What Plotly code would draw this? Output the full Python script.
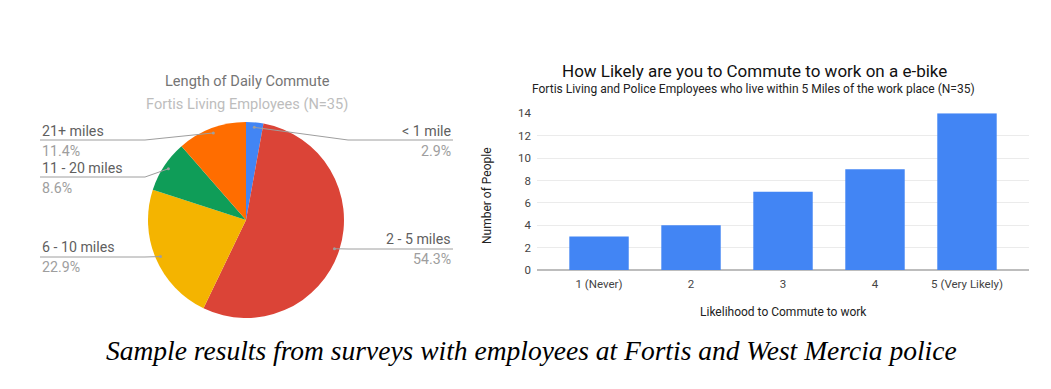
import math
import plotly.graph_objects as go

# ---- data ----
pie_labels = ["< 1 mile", "2 - 5 miles", "6 - 10 miles", "11 - 20 miles", "21+ miles"]
pie_values = [1, 19, 8, 3, 4]
pie_colors = ["#4285F4", "#DB4437", "#F4B400", "#0F9D58", "#FF6D00"]

bar_categories = ["1 (Never)", "2", "3", "4", "5 (Very Likely)"]
bar_values = [3, 4, 7, 9, 14]
y_ticks = [0, 2, 4, 6, 8, 10, 12, 14]

W, H = 1051, 389
OFF = 8  # page body margin
def px(x):
    return (x - OFF) / W
def py(y):
    return 1 - (y - OFF) / H

FONT = "Roboto, Arial, sans-serif"

fig = go.Figure()

cx, cy, R = 246, 220, 98
fig.add_trace(go.Pie(
    labels=pie_labels, values=pie_values, sort=False, direction="clockwise",
    rotation=0, marker=dict(colors=pie_colors, line=dict(width=0)),
    textinfo="none", hoverinfo="label+percent", showlegend=False,
    domain=dict(x=[px(cx - R), px(cx + R)], y=[py(cy + R), py(cy - R)]),
))

fig.add_trace(go.Bar(
    x=list(range(len(bar_categories))), y=bar_values, marker_color="#4285F4",
    marker_line_width=0, showlegend=False, xaxis="x", yaxis="y",
))

fig.update_layout(
    width=W, height=H, margin=dict(l=0, r=0, t=0, b=0, pad=0, autoexpand=False),
    paper_bgcolor="white", plot_bgcolor="white",
    bargap=0.354, showlegend=False,
    font=dict(family=FONT),
    xaxis=dict(domain=[px(537.3), px(1029)], range=[-0.671, 4.674], automargin=False,
               tickvals=list(range(len(bar_categories))), ticktext=bar_categories,
               showgrid=False, zeroline=False, showline=False,
               ticks="outside", ticklen=3, tickcolor="rgba(0,0,0,0)",
               tickfont=dict(size=11.5, color="#444444")),
    yaxis=dict(domain=[py(270.1), py(113.3)], range=[0, 14], tickvals=y_ticks, automargin=False,
               showgrid=True, gridcolor="#EBEBEB", zeroline=True, zerolinecolor="#BDBDBD",
               zerolinewidth=1.5, ticks="outside", ticklen=3, tickcolor="rgba(0,0,0,0)",
               tickfont=dict(size=11.5, color="#444444")),
)

annotations = []
shapes = []

def centered(x, y, text, size, color, family=FONT, **kw):
    d = dict(x=px(x), y=py(y), xref="paper", yref="paper", text=text, showarrow=False,
             xanchor="center", yanchor="middle", font=dict(size=size, color=color, family=family))
    d.update(kw)
    return d

# pie titles
annotations.append(centered(247, 81, "Length of Daily Commute", 14.6, "#757575"))
annotations.append(centered(247, 104, "Fortis Living Employees (N=35)", 14.6, "#BDBDBD"))

# pie labels with leader lines
total = sum(pie_values)
label_side = ["right", "right", "left", "left", "left"]
label_text_y = [131, 239, 247, 168, 131]
label_line_y = [140, 249, 257, 177, 140]
label_pct_y = [151, 259, 267, 188, 151]
cum = 0
for i, (lab, v) in enumerate(zip(pie_labels, pie_values)):
    mid = (cum + v / 2) / total * 2 * math.pi
    cum += v
    r = 93
    dx_ = cx + r * math.sin(mid)
    dy_ = cy - r * math.cos(mid)
    pct = f"{v / total * 100:.1f}%"
    if label_side[i] == "right":
        xa, xel, anchor = 453, 348, "right"
    else:
        xa, xel, anchor = 40, 145, "left"
    annotations.append(dict(x=px(xa), y=py(label_text_y[i]), xref="paper", yref="paper", text=lab,
                            showarrow=False, xanchor=anchor, yanchor="middle",
                            font=dict(size=14.2, color="#5F5F5F", family=FONT)))
    annotations.append(dict(x=px(xa), y=py(label_pct_y[i]), xref="paper", yref="paper", text=pct,
                            showarrow=False, xanchor=anchor, yanchor="middle",
                            font=dict(size=14.2, color="#9E9E9E", family=FONT)))
    path = f"M {px(xa)} {py(label_line_y[i])} L {px(xel)} {py(label_line_y[i])} L {px(dx_)} {py(dy_)}"
    shapes.append(dict(type="path", xref="paper", yref="paper", path=path,
                       line=dict(color="#9E9E9E", width=1)))
    shapes.append(dict(type="circle", xref="paper", yref="paper",
                       x0=px(dx_ - 1.5), x1=px(dx_ + 1.5), y0=py(dy_ + 1.5), y1=py(dy_ - 1.5),
                       fillcolor="#9E9E9E", line=dict(width=0)))

# bar chart titles
annotations.append(centered(754, 71, "How Likely are you to Commute to work on a e-bike", 17, "#111111"))
annotations.append(centered(753.5, 89,
                            "Fortis Living and Police Employees who live within 5 Miles of the work place (N=35)",
                            12, "#222222"))
# axis titles
annotations.append(centered(783, 311.7, "Likelihood to Commute to work", 12, "#222222"))
annotations.append(centered(487, 196, "Number of People", 12, "#222222", textangle=-90))

# caption
annotations.append(centered(531.5, 350,
                            "<i>Sample results from surveys with employees at Fortis and West Mercia police</i>",
                            27.5, "#000000", family="Liberation Serif, serif"))

fig.update_layout(annotations=annotations, shapes=shapes)
fig.write_html("out.html")
